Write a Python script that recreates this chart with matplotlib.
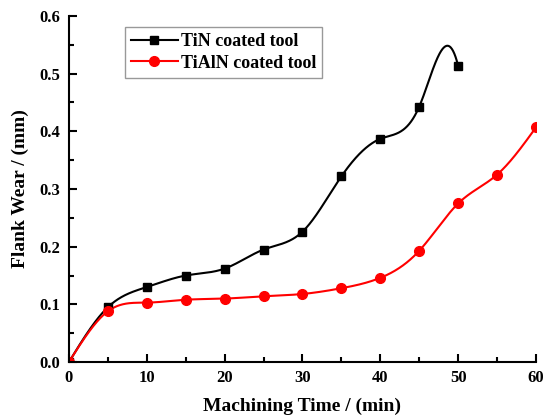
import numpy as np
import matplotlib
matplotlib.use("Agg")
import matplotlib.pyplot as plt
from matplotlib.ticker import MultipleLocator, FormatStrFormatter

time_tin = [0, 5, 10, 15, 20, 25, 30, 35, 40, 45, 50]
wear_tin = [0.0, 0.095, 0.130, 0.150, 0.162, 0.195, 0.226, 0.322, 0.387, 0.443, 0.513]
time_tialn = [0, 5, 10, 15, 20, 25, 30, 35, 40, 45, 50, 55, 60]
wear_tialn = [0.0, 0.088, 0.103, 0.108, 0.110, 0.114, 0.118, 0.128, 0.146, 0.193, 0.275, 0.325, 0.407]
label_tin = "TiN coated tool"
label_tialn = "TiAlN coated tool"
xlabel = "Machining Time / (min)"
ylabel = "Flank Wear / (mm)"


def spline(t, v, tt, end_slope=None):
    """Cubic spline through the points (natural start; natural or clamped end)."""
    t = np.asarray(t, float); v = np.asarray(v, float)
    n = len(t); h = np.diff(t)
    A = np.zeros((n, n)); b = np.zeros(n)
    for i in range(1, n - 1):
        A[i, i - 1] = h[i - 1]; A[i, i] = 2 * (h[i - 1] + h[i]); A[i, i + 1] = h[i]
        b[i] = 3 * ((v[i + 1] - v[i]) / h[i] - (v[i] - v[i - 1]) / h[i - 1])
    A[0, 0] = 1
    if end_slope is None:
        A[-1, -1] = 1
    else:
        A[-1, -2] = h[-1]; A[-1, -1] = 2 * h[-1]
        b[-1] = 3 * (end_slope - (v[-1] - v[-2]) / h[-1])
    c = np.linalg.solve(A, b)
    idx = np.clip(np.searchsorted(t, tt) - 1, 0, n - 2)
    dt = tt - t[idx]; hi = h[idx]
    bb = (v[idx + 1] - v[idx]) / hi - hi * (2 * c[idx] + c[idx + 1]) / 3
    d = (c[idx + 1] - c[idx]) / (3 * hi)
    return v[idx] + bb * dt + c[idx] * dt ** 2 + d * dt ** 3


plt.rcParams['font.family'] = ['Liberation Serif', 'DejaVu Serif']
plt.rcParams['font.weight'] = 'bold'

fig = plt.figure(figsize=(5.47, 4.2), dpi=100)
ax = fig.add_axes([0.126, 0.138, 0.854, 0.824])

bx = np.linspace(time_tin[0], time_tin[-1], 1000)
by = spline(time_tin, wear_tin, bx, end_slope=-0.055)
rx = np.linspace(time_tialn[0], time_tialn[-1], 1000)
ry = spline(time_tialn, wear_tialn, rx)

ax.plot(bx, by, color='black', lw=1.5)
ax.plot(rx, ry, color='red', lw=1.5)
ax.plot(time_tin, wear_tin, 's', color='black', ms=6, ls='none')
ax.plot(time_tialn, wear_tialn, 'o', color='red', ms=7, ls='none')
# legend proxies
ax.plot([], [], '-s', color='black', ms=6, lw=1.5, label=label_tin)
ax.plot([], [], '-o', color='red', ms=7, lw=1.5, label=label_tialn)

ax.set_xlim(0, 60)
ax.set_ylim(0, 0.6)
ax.xaxis.set_major_locator(MultipleLocator(10))
ax.xaxis.set_minor_locator(MultipleLocator(5))
ax.yaxis.set_major_locator(MultipleLocator(0.1))
ax.yaxis.set_minor_locator(MultipleLocator(0.05))
ax.yaxis.set_major_formatter(FormatStrFormatter('%.1f'))
for s in ['top', 'right']:
    ax.spines[s].set_visible(False)
for s in ['left', 'bottom']:
    ax.spines[s].set_linewidth(1.5)
ax.tick_params(which='major', direction='in', length=6, width=1.5, labelsize=12, pad=6)
ax.tick_params(which='minor', direction='in', length=3.5, width=1.5)
for lab in ax.get_xticklabels() + ax.get_yticklabels():
    lab.set_fontweight('bold')

ax.set_xlabel(xlabel, fontsize=14, fontweight='bold', labelpad=8)
ax.set_ylabel(ylabel, fontsize=14, fontweight='bold', labelpad=8)

leg = ax.legend(loc='upper left', bbox_to_anchor=(0.1, 0.995),
                frameon=True, fancybox=False, edgecolor='#999999', framealpha=1,
                handlelength=2.6, borderpad=0.35, labelspacing=0.25, handletextpad=0.15,
                prop={'weight': 'bold', 'size': 13})
leg.get_frame().set_linewidth(1.0)

fig.savefig('out.png', dpi=100)
